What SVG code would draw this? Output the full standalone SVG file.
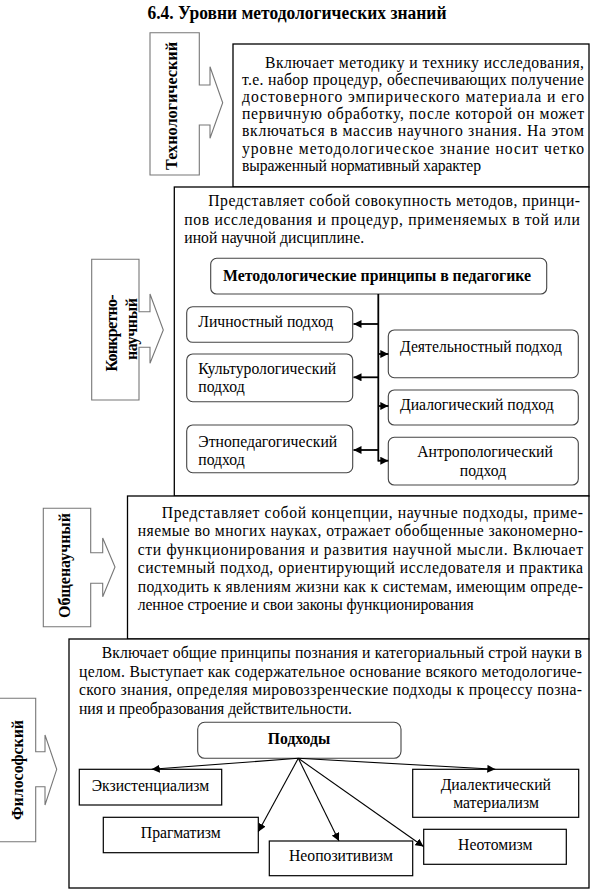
<svg xmlns="http://www.w3.org/2000/svg" width="592" height="892" viewBox="0 0 592 892" font-family="'Liberation Serif', 'DejaVu Serif', 'Times New Roman', serif">
<style>
text{font-family:'Liberation Serif','DejaVu Serif','Times New Roman',serif;fill:#000}
.t{font-size:15.7px}
.b{font-weight:bold}
.lab{font-size:16px;font-weight:bold}
.box{fill:#fff;stroke:#000;stroke-width:1.3}
.arw{fill:#fff;stroke:#777;stroke-width:1.1}
.rb{fill:#fff;stroke:#444;stroke-width:1.1}
.sb{fill:#fff;stroke:#000;stroke-width:1.2}
.c{stroke:#000;stroke-width:1.1;fill:none}
.tr{stroke:#000;stroke-width:1.8;fill:none}
.m{text-anchor:middle}
</style>
<defs>
<marker id="ah" markerUnits="userSpaceOnUse" markerWidth="9" markerHeight="8" refX="8" refY="4" orient="auto">
<path d="M0,0 L8,4 L0,8 Z" fill="#000"/>
</marker>
</defs>
<text x="297" y="19" class="b m" font-size="18" textLength="299" lengthAdjust="spacingAndGlyphs">6.4. Уровни методологических знаний</text>
<g id="box-tech">
<rect class="box" x="233" y="44" width="356" height="143"/>
<text class="t" x="265" y="67.5" textLength="319" lengthAdjust="spacing">Включает методику и технику исследования,</text>
<text class="t" x="242" y="84.7" textLength="342" lengthAdjust="spacing">т.е. набор процедур, обеспечивающих получение</text>
<text class="t" x="242" y="101.9" textLength="342" lengthAdjust="spacing">достоверного эмпирического материала и его</text>
<text class="t" x="242" y="119.1" textLength="342" lengthAdjust="spacing">первичную обработку, после которой он может</text>
<text class="t" x="242" y="136.3" textLength="342" lengthAdjust="spacing">включаться в массив научного знания. На этом</text>
<text class="t" x="242" y="153.5" textLength="342" lengthAdjust="spacing">уровне методологическое знание носит четко</text>
<text class="t" x="242" y="170.7" textLength="239" lengthAdjust="spacing">выраженный нормативный характер</text>
</g>
<g id="label-tech">
<path class="arw" d="M150,32.7 H199.3 V85 H210 V66.7 L222.7,102.7 L210,138.3 V125 H199.3 V175 H150 Z"/>
<text class="lab m" transform="translate(171.7,106) rotate(-90)" x="0" y="5.5" textLength="128" lengthAdjust="spacingAndGlyphs">Технологический</text>
</g>
<g id="box-concrete">
<rect class="box" x="174.3" y="187" width="414.7" height="309"/>
<text class="t" x="208.3" y="206" textLength="371.7" lengthAdjust="spacing">Представляет собой совокупность методов, принци-</text>
<text class="t" x="184.3" y="225" textLength="395.7" lengthAdjust="spacing">пов исследования и процедур, применяемых в той или</text>
<text class="t" x="184.3" y="243">иной научной дисциплине.</text>
</g>
<g id="label-concrete">
<path class="arw" d="M91.7,259.3 H139 V311.7 H150 V294 L163.3,330 L150,363.3 V347.3 H139 V400 H91.7 Z"/>
<text class="lab m" transform="translate(111.7,333) rotate(-90)" x="0" y="5.5" textLength="77" lengthAdjust="spacing">Конкретно-</text>
<text class="lab m" transform="translate(131.7,329) rotate(-90)" x="0" y="5.5" textLength="62" lengthAdjust="spacing">научный</text>
</g>
<g id="node-principles">
<rect class="rb" x="210.7" y="258.3" width="336" height="35.7" rx="6"/>
<text class="t b m" x="377" y="281" textLength="308" lengthAdjust="spacingAndGlyphs">Методологические принципы в педагогике</text>
</g>
<g id="node-lichn">
<rect class="rb" x="186.7" y="306.7" width="166" height="35.6" rx="6"/>
<text class="t" x="198.3" y="327">Личностный подход</text>
</g>
<g id="node-kult">
<rect class="rb" x="186.7" y="354" width="166" height="47.7" rx="6"/>
<text class="t" x="198.3" y="374">Культурологический</text>
<text class="t" x="198.3" y="392">подход</text>
</g>
<g id="node-etno">
<rect class="rb" x="186.7" y="425" width="166" height="47.7" rx="6"/>
<text class="t" x="198.3" y="447">Этнопедагогический</text>
<text class="t" x="198.3" y="464.5">подход</text>
</g>
<g id="node-deyat">
<rect class="rb" x="388.3" y="330" width="190" height="47.7" rx="6"/>
<text class="t" x="400" y="352">Деятельностный подход</text>
</g>
<g id="node-dialog">
<rect class="rb" x="388.3" y="390" width="190" height="35" rx="6"/>
<text class="t" x="400" y="409.5">Диалогический подход</text>
</g>
<g id="node-antrop">
<rect class="rb" x="388.3" y="437.3" width="190" height="47.7" rx="6"/>
<text class="t m" x="485" y="457">Антропологический</text>
<text class="t m" x="483" y="475.5">подход</text>
</g>
<g id="box-general">
<rect class="box" x="127.5" y="496" width="461.5" height="143"/>
<text class="t" x="161.7" y="517.5" textLength="421.3" lengthAdjust="spacing">Представляет собой концепции, научные подходы, приме-</text>
<text class="t" x="137.7" y="536" textLength="445.3" lengthAdjust="spacing">няемые во многих науках, отражает обобщенные закономерно-</text>
<text class="t" x="137.7" y="554.5" textLength="445.3" lengthAdjust="spacing">сти функционирования и развития научной мысли. Включает</text>
<text class="t" x="137.7" y="573" textLength="445.3" lengthAdjust="spacing">системный подход, ориентирующий исследователя и практика</text>
<text class="t" x="137.7" y="591.5" textLength="445.3" lengthAdjust="spacing">подходить к явлениям жизни как к системам, имеющим опреде-</text>
<text class="t" x="137.7" y="610" textLength="336" lengthAdjust="spacing">ленное строение и свои законы функционирования</text>
</g>
<g id="label-general">
<path class="arw" d="M43.3,508.3 H90.7 V552.7 H102.7 V538 L115,567 L102.7,596.7 V583.3 H90.7 V626.7 H43.3 Z"/>
<text class="lab m" transform="translate(64,565.5) rotate(-90)" x="0" y="5.5" textLength="105" lengthAdjust="spacingAndGlyphs">Общенаучный</text>
</g>
<g id="box-philos">
<rect class="box" x="69" y="639" width="520" height="249"/>
<text class="t" x="101.7" y="657.5" textLength="480.3" lengthAdjust="spacing">Включает общие принципы познания и категориальный строй науки в</text>
<text class="t" x="79" y="676.5" textLength="503" lengthAdjust="spacing">целом. Выступает как содержательное основание всякого методологиче-</text>
<text class="t" x="79" y="695" textLength="503" lengthAdjust="spacing">ского знания, определяя мировоззренческие подходы к процессу позна-</text>
<text class="t" x="79" y="713.5" textLength="273" lengthAdjust="spacing">ния и преобразования действительности.</text>
</g>
<g id="label-philos">
<path class="arw" d="M-1,698.3 H35.7 V751.7 H45 V735 L56.7,769.3 L45,805 V786.7 H35.7 V841.7 H-1 Z"/>
<text class="lab m" transform="translate(17.3,770) rotate(-90)" x="0" y="5.5" textLength="100" lengthAdjust="spacingAndGlyphs">Философский</text>
</g>
<g id="node-podhody">
<rect class="rb" x="197.7" y="722.3" width="203.3" height="36" rx="7"/>
<text class="t b m" x="299" y="744">Подходы</text>
</g>
<g id="node-exist">
<rect class="sb" x="79.3" y="769.3" width="142.4" height="35.7"/>
<text class="t m" x="150.5" y="790.5">Экзистенциализм</text>
</g>
<g id="node-prag">
<rect class="sb" x="103.3" y="817.3" width="155" height="35.4"/>
<text class="t m" x="180.8" y="837.5">Прагматизм</text>
</g>
<g id="node-neopos">
<rect class="sb" x="269.3" y="841" width="143.4" height="34.7"/>
<text class="t m" x="341" y="861">Неопозитивизм</text>
</g>
<g id="node-dialect">
<rect class="sb" x="412.7" y="769.3" width="166" height="48"/>
<text class="t m" x="495.8" y="789.5">Диалектический</text>
<text class="t m" x="496" y="807.5">материализм</text>
</g>
<g id="node-neotom">
<rect class="sb" x="423.7" y="829.3" width="142.6" height="35"/>
<text class="t m" x="495.3" y="849.5">Неотомизм</text>
</g>
<g id="connectors">
<line class="tr" x1="378.3" y1="294" x2="378.3" y2="461.5"/>
<line class="tr" x1="378.3" y1="324" x2="353.5" y2="324" marker-end="url(#ah)"/>
<line class="tr" x1="378.3" y1="377.3" x2="353.5" y2="377.3" marker-end="url(#ah)"/>
<line class="tr" x1="378.3" y1="450" x2="353.5" y2="450" marker-end="url(#ah)"/>
<line class="tr" x1="378.3" y1="354" x2="388.3" y2="354" marker-end="url(#ah)"/>
<line class="tr" x1="378.3" y1="406" x2="388.3" y2="406" marker-end="url(#ah)"/>
<line class="tr" x1="378.3" y1="460.7" x2="388.3" y2="460.7" marker-end="url(#ah)"/>
<line class="c" x1="298.3" y1="758.3" x2="151.7" y2="769.3" marker-end="url(#ah)"/>
<line class="c" x1="298.3" y1="758.3" x2="258.3" y2="831.7" marker-end="url(#ah)"/>
<line class="c" x1="298.3" y1="758.3" x2="339" y2="841" marker-end="url(#ah)"/>
<line class="c" x1="298.3" y1="758.3" x2="423.5" y2="846.5" marker-end="url(#ah)"/>
<line class="c" x1="298.3" y1="758.3" x2="495.3" y2="769.3" marker-end="url(#ah)"/>
</g>
</svg>
